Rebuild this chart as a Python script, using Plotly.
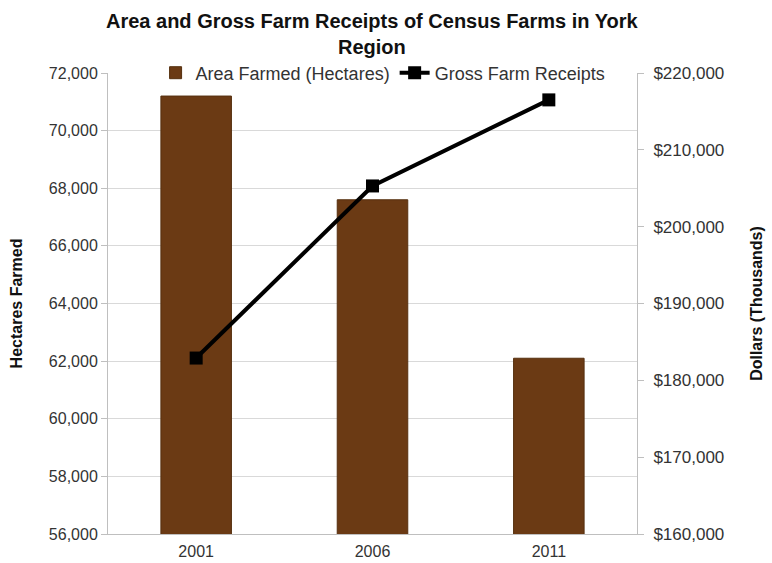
import plotly.graph_objects as go

# Census years and the two series shown
years = ["2001", "2006", "2011"]
area_hectares = [71200, 67600, 62100]
receipts_thousands = [182900, 205300, 216500]

left_ticks = [56000, 58000, 60000, 62000, 64000, 66000, 68000, 70000, 72000]
right_ticks = [160000, 170000, 180000, 190000, 200000, 210000, 220000]
right_labels = ["${:,}".format(v) for v in right_ticks]

FONT = "Liberation Sans, Arial, sans-serif"

fig = go.Figure()

fig.add_trace(go.Bar(
    x=years, y=area_hectares, name="Area Farmed (Hectares)",
    marker=dict(color="#6b3a14", line=dict(color="#56300f", width=1)),
    width=0.4, yaxis="y",
))

fig.add_trace(go.Scatter(
    x=years, y=receipts_thousands, name="Gross Farm Receipts",
    mode="lines+markers", yaxis="y2",
    line=dict(color="#000000", width=4),
    marker=dict(symbol="square", size=13, color="#000000"),
))

fig.add_annotation(
    text="<b>Area and Gross Farm Receipts of Census Farms in York<br>Region</b>",
    xref="paper", yref="paper", x=0.5, y=1.14, xanchor="center", yanchor="top",
    showarrow=False, font=dict(family=FONT, size=20, color="#111111"),
)

fig.update_layout(
    width=772, height=563,
    margin=dict(l=108, r=135, t=73, b=29, autoexpand=False),
    paper_bgcolor="white", plot_bgcolor="white",
    font=dict(family=FONT, size=16, color="#333333"),
    showlegend=True,
    legend=dict(
        orientation="h", x=0.52, xanchor="center", y=1.0, yanchor="middle",
        bgcolor="rgba(255,255,255,1)", font=dict(size=18, color="#333333"),
        itemwidth=30, traceorder="normal", tracegroupgap=0,
    ),
    xaxis=dict(
        type="category", showgrid=False, zeroline=False, automargin=False,
        showline=True, linecolor="#bfbfbf", linewidth=1,
        ticks="", tickfont=dict(size=16), ticklabelstandoff=3,
    ),
    yaxis=dict(
        range=[56000, 72000], tickvals=left_ticks, tickformat=",d", automargin=False,
        showgrid=True, gridcolor="#d9d9d9", gridwidth=1,
        showline=True, linecolor="#bfbfbf", linewidth=1,
        ticks="outside", ticklen=6, tickcolor="#bfbfbf",
        zeroline=False,
        title=dict(text="<b>Hectares Farmed</b>", font=dict(size=16, color="#111111"), standoff=22),
    ),
    yaxis2=dict(
        range=[160000, 220000], tickvals=right_ticks, ticktext=right_labels, automargin=False,
        overlaying="y", side="right", showgrid=False,
        showline=True, linecolor="#bfbfbf", linewidth=1,
        ticks="outside", ticklen=6, tickcolor="#bfbfbf", ticklabelstandoff=6,
        tickfont=dict(size=17),
        zeroline=False,
        title=dict(text="<b>Dollars (Thousands)</b>", font=dict(size=16, color="#111111"), standoff=27),
    ),
)

fig.write_html("out.html")
